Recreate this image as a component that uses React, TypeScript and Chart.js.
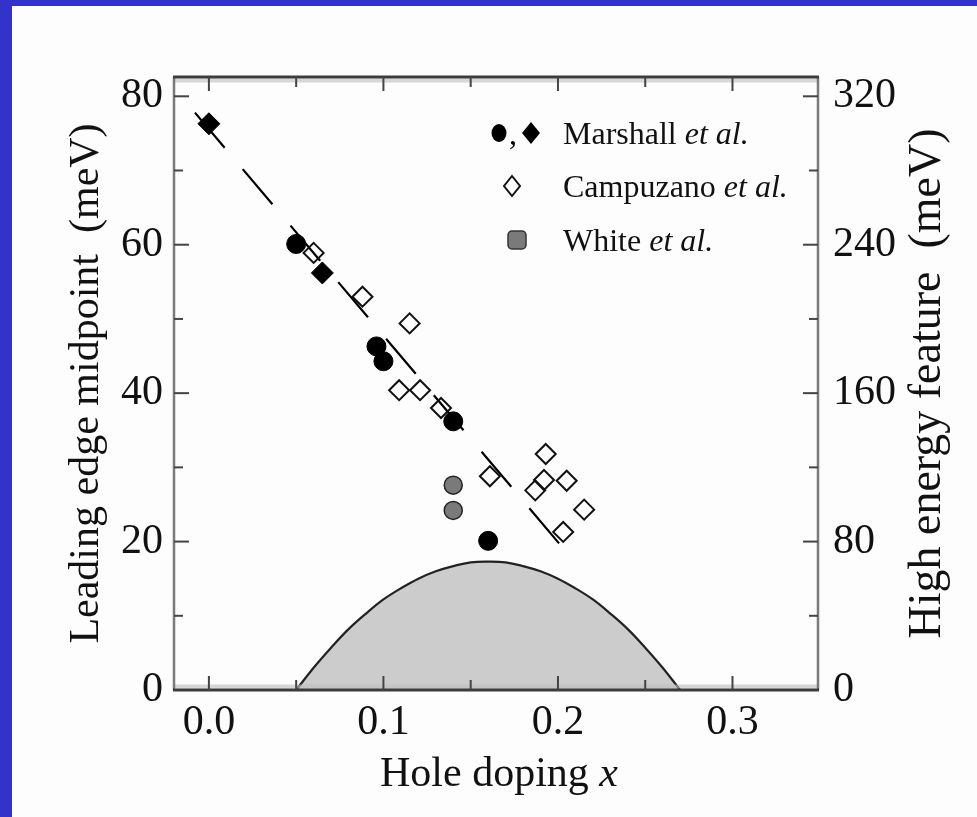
import { useEffect, useRef } from 'react';
import { Chart, registerables } from 'chart.js';
Chart.register(...registerables);

const SERIF = '"Liberation Serif", "Times New Roman", serif';

// ---- data ----
const marshallCircleX = [0.05, 0.096, 0.1, 0.14, 0.16];
const marshallCircleY = [60.1, 46.3, 44.3, 36.2, 20.1];
const marshallDiamondX = [0.0, 0.065];
const marshallDiamondY = [76.3, 56.2];
const campuzanoX = [0.06, 0.088, 0.115, 0.109, 0.121, 0.133, 0.161, 0.193, 0.192, 0.187, 0.205, 0.215, 0.203];
const campuzanoY = [58.9, 53.0, 49.4, 40.4, 40.4, 38.0, 28.8, 31.8, 28.3, 26.9, 28.2, 24.3, 21.3];
const whiteX = [0.14, 0.14];
const whiteY = [27.6, 24.2];
const trendX = [-0.008, 0.203];
const trendY = [77.8, 19.1];
const domeX = [0.05, 0.06, 0.07, 0.08, 0.09, 0.1, 0.11, 0.12, 0.13, 0.14, 0.15, 0.16, 0.17, 0.18, 0.19, 0.2, 0.21, 0.22, 0.23, 0.24, 0.25, 0.26, 0.27];
const domeY = [0, 3.0, 5.7, 8.2, 10.3, 12.2, 13.7, 15.0, 16.0, 16.7, 17.2, 17.3, 17.2, 16.7, 16.0, 15.0, 13.7, 12.2, 10.3, 8.2, 5.7, 3.0, 0];

const xTickLabels = [0, 0.1, 0.2, 0.3];
const xTickMarks = [0, 0.05, 0.1, 0.15, 0.2, 0.25, 0.3];
const yTickLabels = [0, 20, 40, 60, 80];
const yTickMarks = [10, 20, 30, 40, 50, 60, 70, 80];
const y2TickLabels = [0, 80, 160, 240, 320];

const xTitle = 'Hole doping ';
const xTitleVar = 'x';
const yTitle = 'Leading edge midpoint  (meV)';
const y2Title = 'High energy feature  (meV)';
const legendNames = ['Marshall ', 'Campuzano ', 'White '];
const legendSuffix = 'et al.';

const zip = (xs: number[], ys: number[]) => xs.map((x, i) => ({ x, y: ys[i] }));

const framePlugin = {
  id: 'frame',
  afterDatasetsDraw(chart: any) {
    const { ctx, chartArea: a, scales } = chart;
    const xs = scales.x;
    const ys = scales.y;
    const line = (x1: number, y1: number, x2: number, y2: number) => {
      ctx.beginPath();
      ctx.moveTo(x1, y1);
      ctx.lineTo(x2, y2);
      ctx.stroke();
    };
    ctx.save();
    ctx.fillStyle = 'rgba(190,190,190,0.6)';
    ctx.fillRect(a.left, a.top + 1.5, a.right - a.left, 4);
    ctx.fillRect(a.left, a.bottom - 5.5, a.right - a.left, 4);
    ctx.strokeStyle = '#7a7a7a';
    ctx.lineWidth = 2.5;
    line(a.left, a.top, a.left, a.bottom);
    line(a.right, a.top, a.right, a.bottom);
    ctx.strokeStyle = '#3c3c3c';
    ctx.lineWidth = 3;
    line(a.left - 1, a.top, a.right + 1, a.top);
    line(a.left - 1, a.bottom, a.right + 1, a.bottom);
    ctx.strokeStyle = '#444';
    ctx.lineWidth = 2;
    xTickMarks.forEach((v) => {
      const px = xs.getPixelForValue(v);
      const major = Math.abs(v * 10 - Math.round(v * 10)) < 1e-6;
      const len = major ? 14 : 10;
      line(px, a.top, px, a.top + len);
      line(px, a.bottom, px, a.bottom - len);
    });
    yTickMarks.forEach((v) => {
      const py = ys.getPixelForValue(v);
      const major = v % 20 === 0;
      const len = major ? 15 : 9;
      line(a.left, py, a.left + len, py);
      line(a.right, py, a.right - len, py);
    });
    ctx.restore();
  },
};

const textPlugin = {
  id: 'texts',
  afterDraw(chart: any) {
    const { ctx, chartArea: a } = chart;
    ctx.save();
    ctx.fillStyle = '#111';
    ctx.textBaseline = 'alphabetic';
    // x title
    ctx.font = `42px ${SERIF}`;
    const wa = ctx.measureText(xTitle).width;
    ctx.font = `italic 42px ${SERIF}`;
    const wb = ctx.measureText(xTitleVar).width;
    const cx = (a.left + a.right) / 2 + 3;
    let sx = cx - (wa + wb) / 2;
    ctx.font = `42px ${SERIF}`;
    ctx.fillText(xTitle, sx, 786);
    ctx.font = `italic 42px ${SERIF}`;
    ctx.fillText(xTitleVar, sx + wa, 786);
    // left title
    const cy = (a.top + a.bottom) / 2;
    ctx.save();
    ctx.translate(98, cy);
    ctx.rotate(-Math.PI / 2);
    ctx.font = `42px ${SERIF}`;
    ctx.textAlign = 'center';
    ctx.fillText(yTitle, 0, 0);
    ctx.restore();
    // right title
    ctx.save();
    ctx.translate(940, cy);
    ctx.rotate(-Math.PI / 2);
    ctx.font = `46px ${SERIF}`;
    ctx.textAlign = 'center';
    ctx.fillText(y2Title, 0, 0);
    ctx.restore();
    // legend
    const rows = [133, 186, 240];
    const tx = 563;
    rows.forEach((ry, i) => {
      ctx.font = `32px ${SERIF}`;
      const w = ctx.measureText(legendNames[i]).width;
      ctx.fillText(legendNames[i], tx, ry + 11);
      ctx.font = `italic 32px ${SERIF}`;
      ctx.fillText(legendSuffix, tx + w, ry + 11);
    });
    // legend markers
    ctx.fillStyle = '#000';
    ctx.beginPath();
    ctx.ellipse(499, rows[0], 7.5, 9, 0, 0, Math.PI * 2);
    ctx.fill();
    ctx.font = `32px ${SERIF}`;
    ctx.fillText(',', 509, rows[0] + 11);
    ctx.beginPath();
    ctx.moveTo(531, rows[0] - 11);
    ctx.lineTo(540, rows[0]);
    ctx.lineTo(531, rows[0] + 11);
    ctx.lineTo(522, rows[0]);
    ctx.closePath();
    ctx.fill();
    ctx.strokeStyle = '#111';
    ctx.lineWidth = 2;
    ctx.beginPath();
    ctx.moveTo(512, rows[1] - 10);
    ctx.lineTo(520, rows[1]);
    ctx.lineTo(512, rows[1] + 10);
    ctx.lineTo(504, rows[1]);
    ctx.closePath();
    ctx.stroke();
    ctx.fillStyle = '#7a7a7a';
    ctx.beginPath();
    (ctx as any).roundRect(508, rows[2] - 9, 18, 18, 4);
    ctx.fill();
    ctx.lineWidth = 1.5;
    ctx.strokeStyle = '#333';
    ctx.stroke();
    ctx.restore();
  },
};

export default function App() {
  const ref = useRef<HTMLCanvasElement>(null);
  useEffect(() => {
    const canvas = ref.current!;
    const tickFont = { family: SERIF, size: 42 };
    const chart = new Chart(canvas, {
      type: 'scatter',
      data: {
        datasets: [
          {
            label: 'Marshall circles',
            data: zip(marshallCircleX, marshallCircleY),
            pointStyle: 'circle',
            pointRadius: 9.5,
            backgroundColor: '#000',
            borderColor: '#000',
            borderWidth: 1,
            order: 0,
          },
          {
            label: 'Marshall diamonds',
            data: zip(marshallDiamondX, marshallDiamondY),
            pointStyle: 'rectRot',
            pointRadius: 11,
            backgroundColor: '#000',
            borderColor: '#000',
            borderWidth: 1,
            order: 0,
          },
          {
            label: 'Campuzano',
            data: zip(campuzanoX, campuzanoY),
            pointStyle: 'rectRot',
            pointRadius: 10,
            backgroundColor: 'rgba(0,0,0,0)',
            borderColor: '#111',
            borderWidth: 2,
            order: 0,
          },
          {
            label: 'White',
            data: zip(whiteX, whiteY),
            pointStyle: 'circle',
            pointRadius: 9,
            backgroundColor: '#7a7a7a',
            borderColor: '#222',
            borderWidth: 1.5,
            order: 0,
          },
          {
            type: 'line',
            label: 'trend',
            data: zip(trendX, trendY),
            borderColor: '#000',
            borderWidth: 2.2,
            borderDash: [46, 28],
            pointRadius: 0,
            fill: false,
            order: 1,
          } as any,
          {
            type: 'line',
            label: 'dome',
            data: zip(domeX, domeY),
            borderColor: '#222',
            borderWidth: 2.2,
            backgroundColor: '#cccccc',
            pointRadius: 0,
            fill: 'origin',
            tension: 0.4,
            order: 2,
          } as any,
        ],
      },
      options: {
        responsive: false,
        animation: false,
        devicePixelRatio: 1,
        layout: { padding: { top: 77, left: 0, right: 0, bottom: 0 } },
        plugins: { legend: { display: false }, tooltip: { enabled: false } },
        scales: {
          x: {
            type: 'linear',
            min: -0.02,
            max: 0.349,
            grid: { display: false, drawTicks: false },
            border: { display: false },
            ticks: {
              font: tickFont,
              color: '#111',
              padding: 8,
              maxRotation: 0,
              autoSkip: false,
              callback: (v: any) => Number(v).toFixed(1),
            },
            afterBuildTicks: (s: any) => {
              s.ticks = xTickLabels.map((v) => ({ value: v }));
            },
            afterFit: (s: any) => {
              s.height = 127;
            },
          },
          y: {
            type: 'linear',
            position: 'left',
            min: 0,
            max: 82.6,
            grid: { display: false, drawTicks: false },
            border: { display: false },
            ticks: {
              font: tickFont,
              color: '#111',
              padding: 11,
              autoSkip: false,
              callback: (v: any) => String(v),
            },
            afterBuildTicks: (s: any) => {
              s.ticks = yTickLabels.map((v) => ({ value: v }));
            },
            afterFit: (s: any) => {
              s.width = 174;
            },
          },
          y2: {
            type: 'linear',
            position: 'right',
            display: true,
            min: 0,
            max: 330.4,
            grid: { display: false, drawTicks: false },
            border: { display: false },
            ticks: {
              font: tickFont,
              color: '#111',
              padding: 15,
              autoSkip: false,
              callback: (v: any) => String(v),
            },
            afterBuildTicks: (s: any) => {
              s.ticks = y2TickLabels.map((v) => ({ value: v }));
            },
            afterFit: (s: any) => {
              s.width = 159;
            },
          },
        },
      },
      plugins: [framePlugin, textPlugin],
    } as any);
    return () => chart.destroy();
  }, []);
  return (
    <div
      style={{
        position: 'fixed',
        left: 0,
        top: 0,
        width: 977,
        height: 817,
        background: '#3333cc',
        overflow: 'hidden',
      }}
    >
      <div style={{ position: 'absolute', left: 12, top: 6, right: 0, bottom: 0, background: '#fdfdfd' }} />
      <canvas
        ref={ref}
        width={977}
        height={817}
        style={{ position: 'absolute', left: 0, top: 0, width: 977, height: 817 }}
      />
    </div>
  );
}
